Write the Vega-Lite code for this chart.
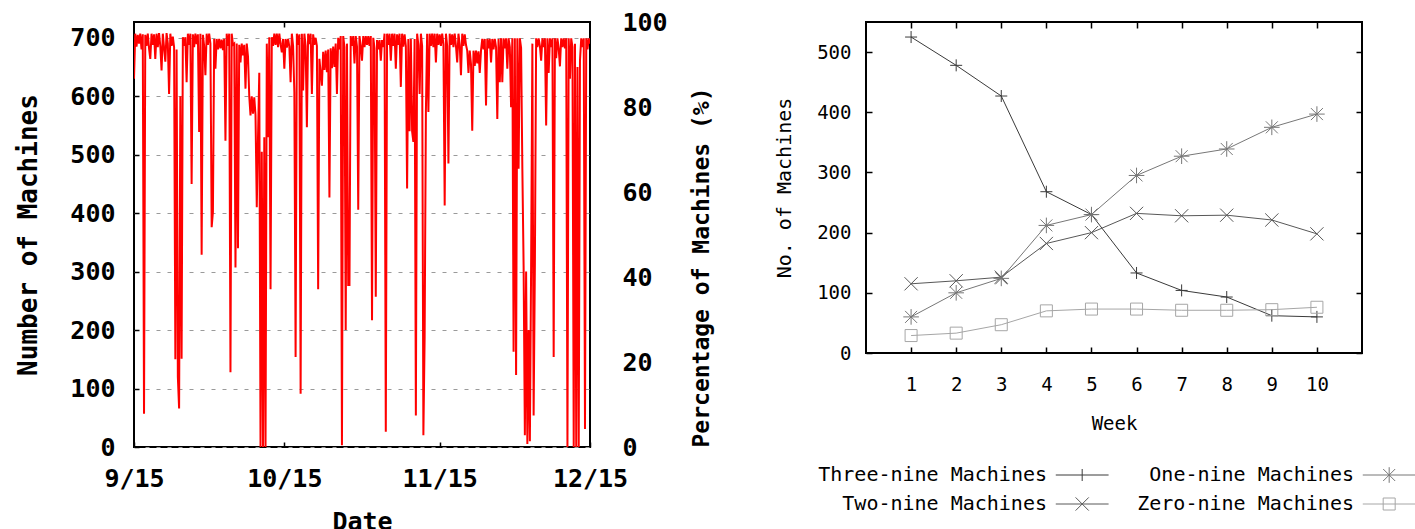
{
  "$schema": "https://vega.github.io/schema/vega-lite/v6.json",
  "background": "white",
  "padding": {"left": 14, "top": 9, "right": 0, "bottom": 0},
  "spacing": 58,
  "config": {
    "view": {"stroke": "#000", "strokeWidth": 2},
    "legend": {"layout": {"bottom": {"anchor": "middle"}}}
  },
  "resolve": {"legend": {"color": "independent"}},
  "hconcat": [
    {
      "width": 456,
      "height": 425,
      "layer": [
        {
          "data": {"values": [
{"d":0,"n":630},{"d":0.25,"n":707},{"d":0.5,"n":685},{"d":0.75,"n":705},
{"d":1,"n":690},{"d":1.25,"n":707},{"d":1.5,"n":680},{"d":1.75,"n":706},
{"d":2,"n":57},{"d":2.25,"n":705},{"d":2.5,"n":686},{"d":2.75,"n":707},
{"d":3,"n":682},{"d":3.25,"n":664},{"d":3.5,"n":707},{"d":3.75,"n":688},
{"d":4,"n":706},{"d":4.25,"n":664},{"d":4.5,"n":707},{"d":4.75,"n":684},
{"d":5,"n":708},{"d":5.25,"n":686},{"d":5.5,"n":644},{"d":5.75,"n":707},
{"d":6,"n":683},{"d":6.25,"n":659},{"d":6.5,"n":708},{"d":6.75,"n":690},
{"d":7,"n":604},{"d":7.25,"n":707},{"d":7.5,"n":686},{"d":7.75,"n":702},
{"d":8,"n":684},{"d":8.25,"n":150},{"d":8.5,"n":680},{"d":8.75,"n":120},
{"d":9,"n":66},{"d":9.25,"n":600},{"d":9.5,"n":151},{"d":9.75,"n":701},
{"d":10,"n":686},{"d":10.25,"n":701},{"d":10.5,"n":624},{"d":10.75,"n":707},
{"d":11,"n":688},{"d":11.25,"n":707},{"d":11.5,"n":450},{"d":11.75,"n":706},
{"d":12,"n":684},{"d":12.25,"n":707},{"d":12.5,"n":689},{"d":12.75,"n":706},
{"d":13,"n":539},{"d":13.25,"n":707},{"d":13.5,"n":329},{"d":13.75,"n":705},
{"d":14,"n":686},{"d":14.25,"n":636},{"d":14.5,"n":707},{"d":14.75,"n":688},
{"d":15,"n":707},{"d":15.25,"n":690},{"d":15.5,"n":376},{"d":15.75,"n":402},
{"d":16,"n":698},{"d":16.25,"n":647},{"d":16.5,"n":698},{"d":16.75,"n":680},
{"d":17,"n":698},{"d":17.25,"n":682},{"d":17.5,"n":697},{"d":17.75,"n":679},
{"d":18,"n":698},{"d":18.25,"n":524},{"d":18.5,"n":707},{"d":18.75,"n":686},
{"d":19,"n":707},{"d":19.25,"n":128},{"d":19.5,"n":707},{"d":19.75,"n":688},
{"d":20,"n":690},{"d":20.25,"n":307},{"d":20.5,"n":690},{"d":20.75,"n":340},
{"d":21,"n":688},{"d":21.25,"n":658},{"d":21.5,"n":690},{"d":21.75,"n":670},
{"d":22,"n":688},{"d":22.25,"n":613},{"d":22.5,"n":690},{"d":22.75,"n":668},
{"d":23,"n":600},{"d":23.25,"n":567},{"d":23.5,"n":600},{"d":23.75,"n":570},
{"d":24,"n":598},{"d":24.25,"n":568},{"d":24.5,"n":410},{"d":24.75,"n":530},
{"d":25,"n":640},{"d":25.25,"n":0},{"d":25.5,"n":505},{"d":25.75,"n":0},
{"d":26,"n":530},{"d":26.25,"n":0},{"d":26.5,"n":690},{"d":26.75,"n":530},
{"d":27,"n":701},{"d":27.25,"n":270},{"d":27.5,"n":701},{"d":27.75,"n":686},
{"d":28,"n":707},{"d":28.25,"n":688},{"d":28.5,"n":707},{"d":28.75,"n":684},
{"d":29,"n":707},{"d":29.25,"n":689},{"d":29.5,"n":675},{"d":29.75,"n":698},
{"d":30,"n":647},{"d":30.25,"n":698},{"d":30.5,"n":683},{"d":30.75,"n":698},
{"d":31,"n":685},{"d":31.25,"n":624},{"d":31.5,"n":707},{"d":31.75,"n":686},
{"d":32,"n":607},{"d":32.25,"n":154},{"d":32.5,"n":707},{"d":32.75,"n":688},
{"d":33,"n":706},{"d":33.25,"n":91},{"d":33.5,"n":707},{"d":33.75,"n":610},
{"d":34,"n":707},{"d":34.25,"n":686},{"d":34.5,"n":547},{"d":34.75,"n":707},
{"d":35,"n":689},{"d":35.25,"n":707},{"d":35.5,"n":604},{"d":35.75,"n":706},
{"d":36,"n":688},{"d":36.25,"n":700},{"d":36.5,"n":686},{"d":36.75,"n":270},
{"d":37,"n":664},{"d":37.25,"n":640},{"d":37.5,"n":618},{"d":37.75,"n":676},
{"d":38,"n":645},{"d":38.25,"n":678},{"d":38.5,"n":641},{"d":38.75,"n":680},
{"d":39,"n":427},{"d":39.25,"n":682},{"d":39.5,"n":648},{"d":39.75,"n":685},
{"d":40,"n":650},{"d":40.25,"n":690},{"d":40.5,"n":604},{"d":40.75,"n":700},
{"d":41,"n":680},{"d":41.25,"n":703},{"d":41.5,"n":3},{"d":41.75,"n":703},
{"d":42,"n":684},{"d":42.25,"n":200},{"d":42.5,"n":690},{"d":42.75,"n":277},
{"d":43,"n":277},{"d":43.25,"n":703},{"d":43.5,"n":686},{"d":43.75,"n":703},
{"d":44,"n":656},{"d":44.25,"n":703},{"d":44.5,"n":685},{"d":44.75,"n":406},
{"d":45,"n":703},{"d":45.25,"n":686},{"d":45.5,"n":661},{"d":45.75,"n":703},
{"d":46,"n":684},{"d":46.25,"n":703},{"d":46.5,"n":688},{"d":46.75,"n":703},
{"d":47,"n":686},{"d":47.25,"n":703},{"d":47.5,"n":217},{"d":47.75,"n":700},
{"d":48,"n":682},{"d":48.25,"n":257},{"d":48.5,"n":696},{"d":48.75,"n":680},
{"d":49,"n":696},{"d":49.25,"n":661},{"d":49.5,"n":696},{"d":49.75,"n":684},
{"d":50,"n":707},{"d":50.25,"n":26},{"d":50.5,"n":707},{"d":50.75,"n":688},
{"d":51,"n":707},{"d":51.25,"n":661},{"d":51.5,"n":707},{"d":51.75,"n":686},
{"d":52,"n":707},{"d":52.25,"n":647},{"d":52.5,"n":706},{"d":52.75,"n":688},
{"d":53,"n":707},{"d":53.25,"n":616},{"d":53.5,"n":707},{"d":53.75,"n":685},
{"d":54,"n":706},{"d":54.25,"n":686},{"d":54.5,"n":442},{"d":54.75,"n":698},
{"d":55,"n":540},{"d":55.25,"n":698},{"d":55.5,"n":540},{"d":55.75,"n":522},
{"d":56,"n":698},{"d":56.25,"n":54},{"d":56.5,"n":707},{"d":56.75,"n":688},
{"d":57,"n":604},{"d":57.25,"n":707},{"d":57.5,"n":686},{"d":57.75,"n":20},
{"d":58,"n":188},{"d":58.25,"n":573},{"d":58.5,"n":707},{"d":58.75,"n":573},
{"d":59,"n":707},{"d":59.25,"n":686},{"d":59.5,"n":707},{"d":59.75,"n":684},
{"d":60,"n":707},{"d":60.25,"n":658},{"d":60.5,"n":707},{"d":60.75,"n":688},
{"d":61,"n":706},{"d":61.25,"n":686},{"d":61.5,"n":707},{"d":61.75,"n":689},
{"d":62,"n":413},{"d":62.25,"n":707},{"d":62.5,"n":686},{"d":62.75,"n":485},
{"d":63,"n":707},{"d":63.25,"n":688},{"d":63.5,"n":706},{"d":63.75,"n":684},
{"d":64,"n":707},{"d":64.25,"n":686},{"d":64.5,"n":658},{"d":64.75,"n":707},
{"d":65,"n":688},{"d":65.25,"n":636},{"d":65.5,"n":707},{"d":65.75,"n":686},
{"d":66,"n":706},{"d":66.25,"n":688},{"d":66.5,"n":678},{"d":66.75,"n":640},
{"d":67,"n":678},{"d":67.25,"n":655},{"d":67.5,"n":541},{"d":67.75,"n":678},
{"d":68,"n":652},{"d":68.25,"n":678},{"d":68.5,"n":656},{"d":68.75,"n":677},
{"d":69,"n":640},{"d":69.25,"n":678},{"d":69.5,"n":698},{"d":69.75,"n":680},
{"d":70,"n":698},{"d":70.25,"n":584},{"d":70.5,"n":698},{"d":70.75,"n":682},
{"d":71,"n":698},{"d":71.25,"n":658},{"d":71.5,"n":698},{"d":71.75,"n":680},
{"d":72,"n":698},{"d":72.25,"n":684},{"d":72.5,"n":561},{"d":72.75,"n":698},
{"d":73,"n":624},{"d":73.25,"n":699},{"d":73.5,"n":624},{"d":73.75,"n":699},
{"d":74,"n":682},{"d":74.25,"n":699},{"d":74.5,"n":647},{"d":74.75,"n":699},
{"d":75,"n":684},{"d":75.25,"n":581},{"d":75.5,"n":699},{"d":75.75,"n":163},
{"d":76,"n":699},{"d":76.25,"n":123},{"d":76.5,"n":699},{"d":76.75,"n":476},
{"d":77,"n":699},{"d":77.25,"n":683},{"d":77.5,"n":476},{"d":77.75,"n":310},
{"d":78,"n":20},{"d":78.25,"n":300},{"d":78.5,"n":5},{"d":78.75,"n":200},
{"d":79,"n":10},{"d":79.25,"n":310},{"d":79.5,"n":690},{"d":79.75,"n":54},
{"d":80,"n":310},{"d":80.25,"n":699},{"d":80.5,"n":684},{"d":80.75,"n":699},
{"d":81,"n":686},{"d":81.25,"n":661},{"d":81.5,"n":699},{"d":81.75,"n":684},
{"d":82,"n":699},{"d":82.25,"n":550},{"d":82.5,"n":699},{"d":82.75,"n":640},
{"d":83,"n":699},{"d":83.25,"n":684},{"d":83.5,"n":699},{"d":83.75,"n":154},
{"d":84,"n":699},{"d":84.25,"n":665},{"d":84.5,"n":699},{"d":84.75,"n":682},
{"d":85,"n":651},{"d":85.25,"n":699},{"d":85.5,"n":684},{"d":85.75,"n":699},
{"d":86,"n":682},{"d":86.25,"n":699},{"d":86.5,"n":0},{"d":86.75,"n":699},
{"d":87,"n":630},{"d":87.25,"n":699},{"d":87.5,"n":684},{"d":87.75,"n":0},
{"d":88,"n":690},{"d":88.25,"n":0},{"d":88.5,"n":650},{"d":88.75,"n":0},
{"d":89,"n":661},{"d":89.25,"n":699},{"d":89.5,"n":684},{"d":89.75,"n":699},
{"d":90,"n":31},{"d":90.25,"n":699},{"d":90.5,"n":680},{"d":90.75,"n":699},
{"d":91,"n":690}
          ]},
          "mark": {"type": "line", "color": "#ff0000", "strokeWidth": 2, "clip": true},
          "encoding": {
            "x": {
              "field": "d", "type": "quantitative",
              "scale": {"domain": [0, 91], "nice": false, "zero": false},
              "axis": {
                "orient": "bottom",
                "values": [0, 30, 61, 91],
                "labelExpr": "datum.value == 0 ? '9/15' : datum.value == 30 ? '10/15' : datum.value == 61 ? '11/15' : '12/15'",
                "title": "Date", "grid": false, "domain": false,
                "tickSize": -5, "tickWidth": 1.5, "tickColor": "#000",
                "labelFlush": false, "labelOverlap": false,
                "labelFont": "DejaVu Sans Mono", "labelFontSize": 25, "labelFontWeight": "bold", "labelColor": "#000", "labelPadding": 24,
                "titleFont": "DejaVu Sans Mono", "titleFontSize": 25, "titleFontWeight": "bold", "titleColor": "#000", "titlePadding": 18
              }
            },
            "y": {
              "field": "n", "type": "quantitative",
              "scale": {"domain": [0, 727], "nice": false},
              "axis": {
                "orient": "left",
                "values": [0, 100, 200, 300, 400, 500, 600, 700],
                "title": "Number of Machines", "domain": false,
                "grid": true, "gridDash": [4, 7], "gridColor": "#9a9a9a", "gridWidth": 1,
                "tickSize": -5, "tickWidth": 1.5, "tickColor": "#000",
                "labelFont": "DejaVu Sans Mono", "labelFontSize": 25, "labelFontWeight": "bold", "labelColor": "#000", "labelPadding": 24,
                "titleFont": "DejaVu Sans Mono", "titleFontSize": 26, "titleFontWeight": "bold", "titleColor": "#000", "titlePadding": 28
              }
            }
          }
        },
        {
          "data": {"values": [{"d": 0, "p": 0}, {"d": 91, "p": 100}]},
          "mark": {"type": "point", "opacity": 0},
          "encoding": {
            "x": {
              "field": "d", "type": "quantitative",
              "scale": {"domain": [0, 91], "nice": false, "zero": false},
              "axis": {"orient": "top", "values": [30, 61], "labels": false, "title": null, "domain": false, "grid": false, "tickSize": -5, "tickWidth": 1.5, "tickColor": "#000"}
            },
            "y": {
              "field": "p", "type": "quantitative",
              "scale": {"domain": [0, 100], "nice": false},
              "axis": {
                "orient": "right", "values": [0, 20, 40, 60, 80, 100],
                "title": "Percentage of Machines (%)", "titleAngle": 270, "titleAnchor": "start", "domain": false, "grid": false, "ticks": false,
                "labelFont": "DejaVu Sans Mono", "labelFontSize": 25, "labelFontWeight": "bold", "labelColor": "#000", "labelPadding": 32, "labelAlign": "left",
                "titleFont": "DejaVu Sans Mono", "titleFontSize": 23, "titleFontWeight": "bold", "titleColor": "#000", "titlePadding": 46
              }
            }
          }
        }
      ],
      "resolve": {"scale": {"y": "independent"}, "axis": {"x": "independent"}}
    },
    {
      "width": 496,
      "height": 331,
      "data": {"values": [
        {"week": 1, "series": "Three-nine Machines", "count": 525},
        {"week": 2, "series": "Three-nine Machines", "count": 478},
        {"week": 3, "series": "Three-nine Machines", "count": 427},
        {"week": 4, "series": "Three-nine Machines", "count": 268},
        {"week": 5, "series": "Three-nine Machines", "count": 230},
        {"week": 6, "series": "Three-nine Machines", "count": 133},
        {"week": 7, "series": "Three-nine Machines", "count": 104},
        {"week": 8, "series": "Three-nine Machines", "count": 93},
        {"week": 9, "series": "Three-nine Machines", "count": 62},
        {"week": 10, "series": "Three-nine Machines", "count": 60},
        {"week": 1, "series": "Two-nine Machines", "count": 115},
        {"week": 2, "series": "Two-nine Machines", "count": 120},
        {"week": 3, "series": "Two-nine Machines", "count": 126},
        {"week": 4, "series": "Two-nine Machines", "count": 182},
        {"week": 5, "series": "Two-nine Machines", "count": 200},
        {"week": 6, "series": "Two-nine Machines", "count": 232},
        {"week": 7, "series": "Two-nine Machines", "count": 228},
        {"week": 8, "series": "Two-nine Machines", "count": 229},
        {"week": 9, "series": "Two-nine Machines", "count": 221},
        {"week": 10, "series": "Two-nine Machines", "count": 198},
        {"week": 1, "series": "One-nine Machines", "count": 60},
        {"week": 2, "series": "One-nine Machines", "count": 100},
        {"week": 3, "series": "One-nine Machines", "count": 124},
        {"week": 4, "series": "One-nine Machines", "count": 212},
        {"week": 5, "series": "One-nine Machines", "count": 230},
        {"week": 6, "series": "One-nine Machines", "count": 295},
        {"week": 7, "series": "One-nine Machines", "count": 327},
        {"week": 8, "series": "One-nine Machines", "count": 339},
        {"week": 9, "series": "One-nine Machines", "count": 375},
        {"week": 10, "series": "One-nine Machines", "count": 397},
        {"week": 1, "series": "Zero-nine Machines", "count": 29},
        {"week": 2, "series": "Zero-nine Machines", "count": 33},
        {"week": 3, "series": "Zero-nine Machines", "count": 47},
        {"week": 4, "series": "Zero-nine Machines", "count": 70},
        {"week": 5, "series": "Zero-nine Machines", "count": 73},
        {"week": 6, "series": "Zero-nine Machines", "count": 73},
        {"week": 7, "series": "Zero-nine Machines", "count": 71},
        {"week": 8, "series": "Zero-nine Machines", "count": 71},
        {"week": 9, "series": "Zero-nine Machines", "count": 72},
        {"week": 10, "series": "Zero-nine Machines", "count": 76}
      ]},
      "layer": [
        {
          "mark": {"type": "line", "strokeWidth": 1},
          "encoding": {
            "x": {
              "field": "week", "type": "quantitative",
              "scale": {"domain": [0, 11], "nice": false, "zero": false},
              "axis": {
                "orient": "bottom",
                "values": [1, 2, 3, 4, 5, 6, 7, 8, 9, 10], "title": "Week", "grid": false, "domain": false,
                "tickSize": -6, "tickColor": "#000", "tickWidth": 1.5, "labelFlush": false, "labelOverlap": false,
                "labelFont": "DejaVu Sans Mono", "labelFontSize": 19, "labelColor": "#000", "labelPadding": 28,
                "titleFont": "DejaVu Sans Mono", "titleFontSize": 19, "titleFontWeight": "normal", "titleColor": "#000", "titlePadding": 20
              }
            },
            "y": {
              "field": "count", "type": "quantitative",
              "scale": {"domain": [0, 550], "nice": false},
              "axis": {
                "orient": "left",
                "values": [0, 100, 200, 300, 400, 500], "title": "No. of Machines", "grid": false, "domain": false,
                "tickSize": -6, "tickColor": "#000", "tickWidth": 1.5,
                "labelFont": "DejaVu Sans Mono", "labelFontSize": 19, "labelColor": "#000", "labelPadding": 21,
                "titleFont": "DejaVu Sans Mono", "titleFontSize": 20, "titleFontWeight": "normal", "titleColor": "#000", "titlePadding": 22
              }
            },
            "color": {
              "field": "series", "type": "nominal",
              "scale": {"domain": ["Three-nine Machines", "One-nine Machines", "Two-nine Machines", "Zero-nine Machines"], "range": ["#3a3a3a", "#777777", "#585858", "#a6a6a6"]},
              "legend": {
                "title": null, "orient": "bottom", "direction": "horizontal", "columns": 2, "offset": 32,
                "labelFont": "DejaVu Sans Mono", "labelFontSize": 20, "labelColor": "#000", "labelAlign": "right", "labelOffset": 216, "labelLimit": 0,
                "symbolSize": 144, "symbolStrokeWidth": 1, "symbolFillColor": "transparent", "rowPadding": 9, "columnPadding": 7,
                "encode": {"symbols": {"update": {"shape": {"signal": "datum.value == 'Three-nine Machines' ? 'M39.13,0L47.93,0M43.53,-1L43.53,1' : datum.value == 'Two-nine Machines' ? 'M39.13,0L47.93,0M42.43,-1.1L44.63,1.1M42.43,1.1L44.63,-1.1' : datum.value == 'One-nine Machines' ? 'M39.13,0L47.93,0M43.53,-1.3L43.53,1.3M42.53,-1L44.53,1M42.53,1L44.53,-1' : 'M39.13,0L47.93,0M42.53,-1L44.53,-1L44.53,1L42.53,1Z'"}}}}
              }
            }
          }
        },
        {
          "transform": [{"filter": "datum.series == 'Three-nine Machines'"}],
          "mark": {"type": "point", "shape": "M-1,0L1,0M0,-1L0,1", "filled": false, "strokeWidth": 1, "size": 144, "opacity": 1},
          "encoding": {
            "x": {"field": "week", "type": "quantitative", "scale": {"domain": [0, 11], "nice": false, "zero": false}, "axis": null},
            "y": {"field": "count", "type": "quantitative", "scale": {"domain": [0, 550], "nice": false}, "axis": null},
            "color": {"field": "series", "type": "nominal", "legend": null}
          }
        },
        {
          "transform": [{"filter": "datum.series == 'Two-nine Machines'"}],
          "mark": {"type": "point", "shape": "M-1.1,-1.1L1.1,1.1M-1.1,1.1L1.1,-1.1", "filled": false, "strokeWidth": 1, "size": 144, "opacity": 1},
          "encoding": {
            "x": {"field": "week", "type": "quantitative", "scale": {"domain": [0, 11], "nice": false, "zero": false}, "axis": null},
            "y": {"field": "count", "type": "quantitative", "scale": {"domain": [0, 550], "nice": false}, "axis": null},
            "color": {"field": "series", "type": "nominal", "legend": null}
          }
        },
        {
          "transform": [{"filter": "datum.series == 'One-nine Machines'"}],
          "mark": {"type": "point", "shape": "M-1.3,0L1.3,0M0,-1.3L0,1.3M-1,-1L1,1M-1,1L1,-1", "filled": false, "strokeWidth": 1, "size": 144, "opacity": 1},
          "encoding": {
            "x": {"field": "week", "type": "quantitative", "scale": {"domain": [0, 11], "nice": false, "zero": false}, "axis": null},
            "y": {"field": "count", "type": "quantitative", "scale": {"domain": [0, 550], "nice": false}, "axis": null},
            "color": {"field": "series", "type": "nominal", "legend": null}
          }
        },
        {
          "transform": [{"filter": "datum.series == 'Zero-nine Machines'"}],
          "mark": {"type": "point", "shape": "M-1,-1L1,-1L1,1L-1,1Z", "filled": false, "strokeWidth": 1, "size": 144, "opacity": 1},
          "encoding": {
            "x": {"field": "week", "type": "quantitative", "scale": {"domain": [0, 11], "nice": false, "zero": false}, "axis": null},
            "y": {"field": "count", "type": "quantitative", "scale": {"domain": [0, 550], "nice": false}, "axis": null},
            "color": {"field": "series", "type": "nominal", "legend": null}
          }
        },
        {
          "mark": {"type": "point", "opacity": 0},
          "encoding": {
            "x": {"field": "week", "type": "quantitative", "scale": {"domain": [0, 11], "nice": false, "zero": false},
                  "axis": {"orient": "top", "values": [1, 2, 3, 4, 5, 6, 7, 8, 9, 10], "labels": false, "title": null, "domain": false, "grid": false, "tickSize": -6, "tickColor": "#000", "tickWidth": 1.5}},
            "y": {"field": "count", "type": "quantitative", "scale": {"domain": [0, 550], "nice": false},
                  "axis": {"orient": "right", "values": [0, 100, 200, 300, 400, 500], "labels": false, "title": null, "domain": false, "grid": false, "tickSize": -6, "tickColor": "#000", "tickWidth": 1.5}}
          }
        }
      ],
      "resolve": {"axis": {"x": "independent", "y": "independent"}}
    }
  ]
}
